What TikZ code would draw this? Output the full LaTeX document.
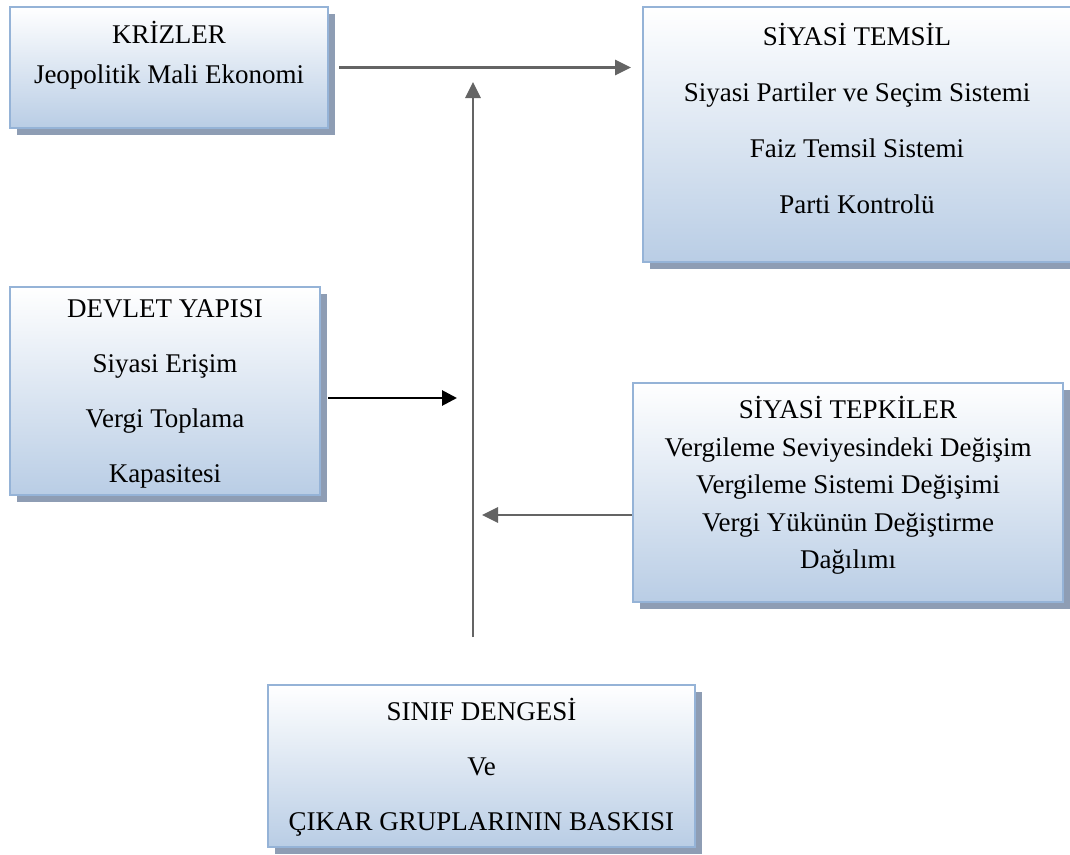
\documentclass[tikz,border=0pt]{standalone}
\usepackage{fontspec}
\setmainfont{Liberation Serif}
\usetikzlibrary{shadows,arrows.meta}
\definecolor{bordc}{RGB}{149,179,215}
\definecolor{botc}{RGB}{185,205,229}
\definecolor{shadc}{RGB}{142,157,180}
\definecolor{arrg}{RGB}{100,100,100}
\begin{document}
\begin{tikzpicture}[x=1pt,y=-1pt,
  box/.style={draw=bordc, line width=2pt, top color=white, bottom color=botc,
    drop shadow={shadow xshift=6.5pt, shadow yshift=-6.5pt, fill=shadc, opacity=1},
    inner sep=0pt},
  txt/.style={align=center, inner sep=0pt, font=\fontsize{27}{#1}\selectfont},
  garr/.style={draw=arrg, line width=2.7pt, -{Triangle[length=16pt,width=15pt]}},
  barr/.style={draw=black, line width=2.8pt, -{Triangle[length=15pt,width=15pt]}}]
\path[use as bounding box] (0,0) rectangle (1070,854);
\fill[white] (0,0) rectangle (1070,854);
% boxes
\node[box, minimum width=318pt, minimum height=121pt] (kb) at (169,67.5) {};
\node[box, minimum width=428pt, minimum height=255pt] (tb) at (857,134.5) {};
\node[box, minimum width=310pt, minimum height=208pt] (db) at (165,391) {};
\node[box, minimum width=430pt, minimum height=219pt] (pb) at (848,492.5) {};
\node[box, minimum width=427pt, minimum height=162pt] (sb) at (481.5,766) {};
% texts
\node[txt=40] (kt) at (169,55) {KRİZLER\\Jeopolitik Mali Ekonomi};
\node[txt=56] (tt) at (857,118.5) {SİYASİ TEMSİL\\Siyasi Partiler ve Seçim Sistemi\\Faiz Temsil Sistemi\\Parti Kontrolü};
\node[txt=55] (dt) at (165,394) {DEVLET YAPISI\\Siyasi Erişim\\Vergi Toplama\\Kapasitesi};
\node[txt=37.5] (pt) at (848,485.5) {SİYASİ TEPKİLER\\Vergileme Seviyesindeki Değişim\\Vergileme Sistemi Değişimi\\Vergi Yükünün Değiştirme\\Dağılımı};
\node[txt=55] (st) at (481.5,767) {SINIF DENGESİ\\Ve\\ÇIKAR GRUPLARININ BASKISI};
% connectors
\coordinate (vb) at (473,637);
\coordinate (vt) at (473,82);
\draw[garr] (vb) -- (vt);
\draw[garr] ([xshift=10pt]kb.east) -- ([xshift=-11pt]tb.west |- kb.east);
\coordinate (bh) at (457,398);
\draw[barr] ([xshift=7pt]db.east |- bh) -- (bh);
\coordinate (ph) at (482,515);
\draw[garr] (pb.west |- ph) -- (ph);
\end{tikzpicture}
\end{document}
